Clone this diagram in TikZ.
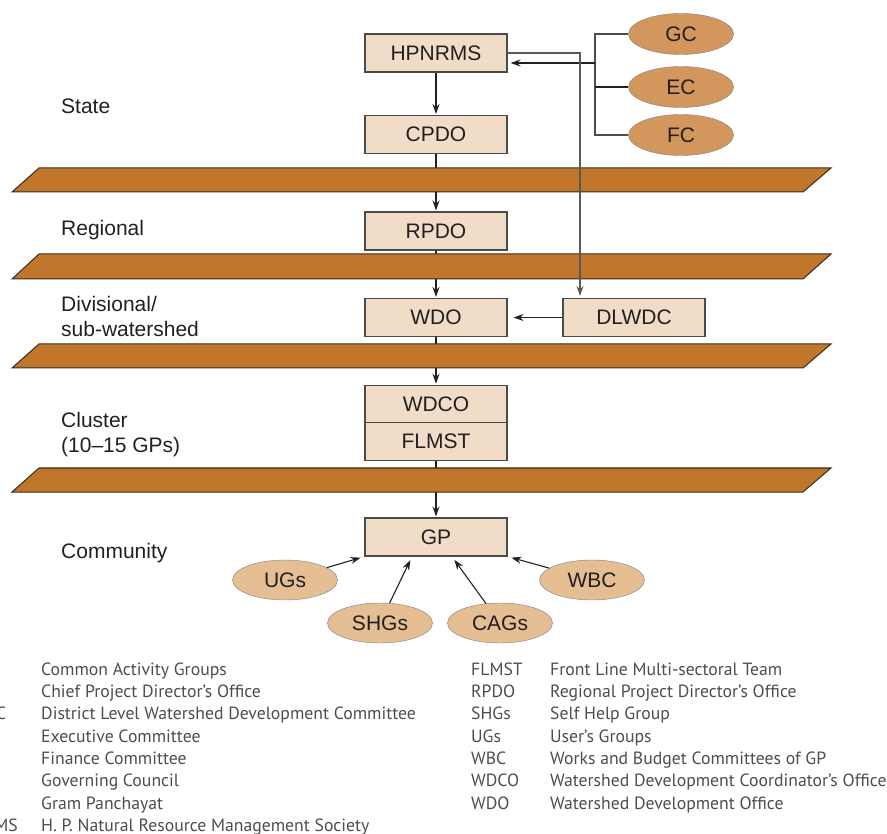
\documentclass[tikz,border=0pt]{standalone}
\usepackage{fontspec}
\setmainfont{Liberation Sans}
\newfontfamily\legfont{PT Sans}
\usetikzlibrary{positioning,arrows.meta,shapes.geometric}

\definecolor{ink}{HTML}{231F20}
\definecolor{boxfill}{HTML}{F1DCC7}
\definecolor{boxline}{HTML}{4A4A4A}
\definecolor{councilfill}{HTML}{D3965C}
\definecolor{memberfill}{HTML}{E5BE93}
\definecolor{ellline}{HTML}{808080}
\definecolor{platefill}{HTML}{C0772C}
\definecolor{plateline}{HTML}{3A2B1E}
\definecolor{legink}{HTML}{4D4D4D}

\begin{document}
\begin{tikzpicture}[
    x=1pt, y=-1pt,
    >={Stealth[length=10pt,width=7pt]},
    every node/.style={font=\fontsize{21}{25}\selectfont, text=ink},
    office/.style={draw=boxline, line width=1.1pt, fill=boxfill,
        minimum width=142pt, minimum height=38pt, inner sep=0pt},
    council/.style={ellipse, draw=ellline, fill=councilfill,
        minimum width=105pt, minimum height=41pt, inner sep=0pt},
    member/.style={ellipse, draw=ellline, fill=memberfill,
        minimum width=105pt, minimum height=40pt, inner sep=0pt},
    tier/.style={anchor=west, align=left, inner sep=0pt},
    mainflow/.style={->, line width=1.5pt, draw=ink, shorten >=1pt},
    sideflow/.style={->, line width=1.1pt, draw=ink, shorten >=4pt},
    band/.style={fill=platefill, draw=plateline, line width=1pt},
    legkey/.style={font=\legfont\fontsize{17.7}{19}\selectfont, text=legink,
        anchor=base west, inner sep=0pt}
]
\useasboundingbox (0,0) rectangle (887,834);
\clip (0,0) rectangle (887,834);

% levels
\node[tier] (state) at (61,106) {State};
\node[tier] (regional) at (61,230) {Regional};
\node[tier] (divisional) at (61,316) {Divisional/\\sub-watershed};
\node[tier] (cluster) at (61,435) {Cluster\\(10–15 GPs)};
\node[tier] (community) at (61,553) {Community};

% offices
\node[office] (hpnrms) at (436,53) {HPNRMS};
\node[office] (cpdo) at (436,134.5) {CPDO};
\node[office] (rpdo) at (436,231) {RPDO};
\node[office] (wdo) at (436,317.5) {WDO};
\node[office] (dlwdc) at (634,317.5) {DLWDC};
\node[office, minimum height=37.5pt] (wdco) at (436,404) {WDCO};
\node[office, minimum height=37.5pt] (flmst) at (436,441.5) {FLMST};
\node[office] (gp) at (436,537) {GP};

% councils
\node[council] (gc) at (681,34) {GC};
\node[council] (ec) at (681,87) {EC};
\node[council] (fc) at (681,135) {FC};

% community groups
\node[member] (ugs) at (285,580) {UGs};
\node[member] (shgs) at (380,623) {SHGs};
\node[member] (cags) at (500,623) {CAGs};
\node[member] (wbc) at (592,580) {WBC};

% main line, runs under the bands
\draw[mainflow] (hpnrms) -- (cpdo);
\draw[mainflow] (cpdo) -- (rpdo);
\draw[mainflow] (rpdo) -- (wdo);
\draw[mainflow] (wdo) -- (wdco);
\draw[mainflow] (flmst) -- (gp);

% bands
\draw[band] (12,192) -- (39,168) -- (831,168) -- (803,192) -- cycle;
\draw[band] (12,279) -- (39,254) -- (831,254) -- (803,279) -- cycle;
\draw[band] (12,368) -- (39,344) -- (831,344) -- (803,368) -- cycle;
\draw[band] (12,492) -- (39,468) -- (831,468) -- (803,492) -- cycle;

% councils to HPNRMS
\coordinate (brtop) at (595,34);
\coordinate (brbot) at (595,135);
\coordinate (brmid) at (595,63);
\draw[line width=1.2pt, draw=black!70] (gc.west) -- (brtop) -- (brbot) -- (fc.west);
\draw[line width=1.8pt, draw=ink] (ec.west) -- (ec.west -| brtop);
\draw[->, line width=1.5pt, draw=ink, shorten >=3pt] (brmid) -- (brmid -| hpnrms.east);

% HPNRMS down to DLWDC, over the bands
\draw[->, line width=1.1pt, draw=black!65, shorten >=2pt]
    (hpnrms.east) -| ([xshift=-54pt]dlwdc.north);
\draw[mainflow, shorten >=6pt] (dlwdc) -- (wdo);

% groups to GP
\draw[sideflow] (ugs) -- (gp.south west);
\draw[sideflow] (shgs) -- ([xshift=-24pt]gp.south);
\draw[sideflow] (cags) -- ([xshift=16pt]gp.south);
\draw[sideflow] (wbc) -- (gp.south east);

% key
\node[legkey] (k1) at (-50,675) {CAGs};
\node[legkey] (d1) at (41,675) {Common Activity Groups};
\node[legkey] (k2) at (-50,697) {CPDO};
\node[legkey] (d2) at (41,697) {Chief Project Director’s Office};
\node[legkey] (k3) at (-50,719.5) {DLWDC};
\node[legkey] (d3) at (41,719.5) {District Level Watershed Development Committee};
\node[legkey] (k4) at (-50,742) {EC};
\node[legkey] (d4) at (41,742) {Executive Committee};
\node[legkey] (k5) at (-50,764) {FC};
\node[legkey] (d5) at (41,764) {Finance Committee};
\node[legkey] (k6) at (-50,786.5) {GC};
\node[legkey] (d6) at (41,786.5) {Governing Council};
\node[legkey] (k7) at (-50,809) {GP};
\node[legkey] (d7) at (41,809) {Gram Panchayat};
\node[legkey] (k8) at (-50,831) {HPNRMS};
\node[legkey] (d8) at (41,831) {H. P. Natural Resource Management Society};

\node[legkey] (k9) at (471,675) {FLMST};
\node[legkey] (d9) at (550,675) {Front Line Multi-sectoral Team};
\node[legkey] (k10) at (471,697) {RPDO};
\node[legkey] (d10) at (550,697) {Regional Project Director’s Office};
\node[legkey] (k11) at (471,719.5) {SHGs};
\node[legkey] (d11) at (550,719.5) {Self Help Group};
\node[legkey] (k12) at (471,742) {UGs};
\node[legkey] (d12) at (550,742) {User’s Groups};
\node[legkey] (k13) at (471,764) {WBC};
\node[legkey] (d13) at (550,764) {Works and Budget Committees of GP};
\node[legkey] (k14) at (471,786.5) {WDCO};
\node[legkey] (d14) at (550,786.5) {Watershed Development Coordinator’s Office};
\node[legkey] (k15) at (471,809) {WDO};
\node[legkey] (d15) at (550,809) {Watershed Development Office};

\end{tikzpicture}
\end{document}
